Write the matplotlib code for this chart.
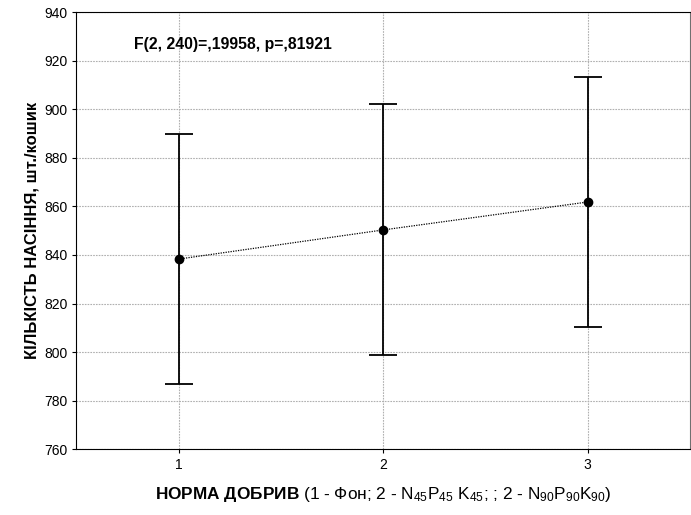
import matplotlib.pyplot as plt

plt.rcParams['font.family'] = ['Liberation Sans', 'DejaVu Sans']
plt.rcParams['mathtext.fontset'] = 'custom'
plt.rcParams['mathtext.rm'] = 'Liberation Sans'
plt.rcParams['mathtext.bf'] = 'Liberation Sans:bold'
plt.rcParams['mathtext.it'] = 'Liberation Sans:italic'

# fertilizer rate groups, means and 95% CI bounds
groups = [1, 2, 3]
means = [838.3, 850.3, 861.8]
ci_upper = [890.0, 902.0, 913.4]
ci_lower = [786.7, 798.7, 810.3]
yticks = [760, 780, 800, 820, 840, 860, 880, 900, 920, 940]

err_low = [m - lo for m, lo in zip(means, ci_lower)]
err_high = [hi - m for m, hi in zip(means, ci_upper)]

fig = plt.figure(figsize=(6.91, 5.15), dpi=100)
ax = fig.add_axes([0.1104, 0.1276, 0.888, 0.849])

ax.plot(groups, means, color='black', linestyle=(0, (1, 1)), linewidth=0.9, zorder=2)
ax.errorbar(groups, means, yerr=[err_low, err_high], fmt='o', color='black',
            markersize=6, elinewidth=1.3, capsize=10, capthick=1.3, zorder=3)

ax.set_xlim(0.5, 3.5)
ax.set_ylim(760, 940)
ax.set_xticks(groups)
ax.set_yticks(yticks)
ax.tick_params(labelsize=10, length=3, direction='out')
ax.grid(True, color='#b0b0b0', linestyle=(0, (1.5, 1)), linewidth=0.8)
ax.set_axisbelow(True)
for side in ['top', 'bottom', 'left']:
    ax.spines[side].set_color('black')
ax.spines['right'].set_color('#707070')

ax.text(0.78, 926.5, 'F(2, 240)=,19958, p=,81921', fontsize=11.3,
        fontweight='bold', ha='left', va='center')

ax.set_ylabel('КІЛЬКІСТЬ НАСІННЯ, шт./кошик', fontsize=12,
              fontweight='bold', labelpad=3)
ax.set_xlabel(r'$\mathbf{НОРМА\ ДОБРИВ}$ (1 - Фон; 2 - N$_{45}$P$_{45}$ K$_{45}$; ; '
              r'2 - N$_{90}$P$_{90}$K$_{90}$)', fontsize=12.4, labelpad=9)

fig.savefig('out.png', dpi=100)
